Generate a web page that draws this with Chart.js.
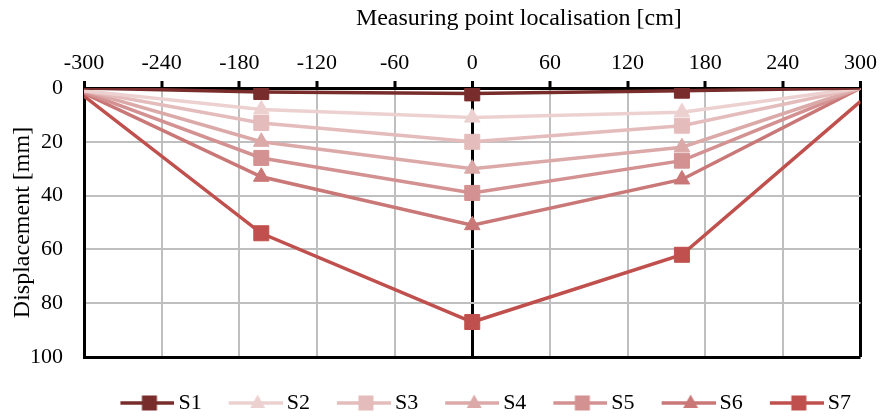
<!DOCTYPE html>
<html>
<head>
<meta charset="utf-8">
<script src="https://cdn.jsdelivr.net/npm/chart.js@4.4.0/dist/chart.umd.min.js"></script>
<style>
  html, body { margin: 0; padding: 0; background: #fff; }
</style>
</head>
<body>
<canvas id="displacementChart" width="882" height="419"></canvas>
<script>
// Data
const positions = [-300, -163, 0, 162, 300];
const seriesNames = ['S1', 'S2', 'S3', 'S4', 'S5', 'S6', 'S7'];
const s1 = [0, 1.5, 2, 1, 0];
const s2 = [1, 8, 11, 9, 0];
const s3 = [1, 13, 20, 14, 0];
const s4 = [1, 20, 30, 22, 0];
const s5 = [1.5, 26, 39, 27, 0];
const s6 = [2, 33, 51, 34, 0];
const s7 = [3, 54, 87, 62, 5];
const xTickValues = [-300, -240, -180, -120, -60, 0, 60, 120, 180, 240, 300];
const yTickValues = [0, 20, 40, 60, 80, 100];
const xTitle = 'Measuring point localisation [cm]';
const yTitle = 'Displacement [mm]';

// Styles
const seriesValues = [s1, s2, s3, s4, s5, s6, s7];
const seriesColors = ['#782d2c', '#edd1d1', '#e5bcbc', '#dca9a9', '#d39191', '#c97777', '#c0504d'];
const seriesMarkers = ['rect', 'triangle', 'rect', 'triangle', 'rect', 'triangle', 'rect'];
const FONT = '"Liberation Serif", "Times New Roman", serif';

function markerRadius(style) {
    return style === 'rect' ? 10.6 : 9;
}

// Petite icône ligne + marqueur pour la légende
function legendIcon(color, style) {
    const c = document.createElement('canvas');
    c.width = 88;
    c.height = 20;
    const g = c.getContext('2d');
    g.strokeStyle = color;
    g.fillStyle = color;
    g.lineWidth = 3.5;
    g.beginPath();
    g.moveTo(34, 10);
    g.lineTo(88, 10);
    g.stroke();
    const cx = 63, cy = 10;
    if (style === 'rect') {
        g.fillRect(cx - 7.5, cy - 7.5, 15, 15);
    } else {
        g.beginPath();
        g.moveTo(cx, cy - 8.5);
        g.lineTo(cx + 7.5, cy + 5);
        g.lineTo(cx - 7.5, cy + 5);
        g.closePath();
        g.fill();
    }
    return c;
}

const datasets = seriesNames.map((name, i) => {
    const r = markerRadius(seriesMarkers[i]);
    return {
        label: name,
        data: positions.map((x, j) => ({ x: x, y: seriesValues[i][j] })),
        showLine: true,
        borderColor: seriesColors[i],
        backgroundColor: seriesColors[i],
        borderWidth: 3.5,
        tension: 0,
        pointStyle: seriesMarkers[i],
        pointRadius: positions.map((p, j) => (j === 0 || j === positions.length - 1) ? 0 : r),
        pointBorderWidth: 1,
        pointHoverRadius: r
    };
});

const topTitle = {
    id: 'topTitle',
    afterDraw(chart) {
        const ctx = chart.ctx;
        ctx.save();
        ctx.font = '24px ' + FONT;
        ctx.fillStyle = '#000';
        ctx.textAlign = 'center';
        ctx.textBaseline = 'middle';
        ctx.fillText(xTitle, chart.scales.x.getPixelForValue(36), 19);
        ctx.restore();
    }
};

const isEdgeX = v => v === 0 || v === -300 || v === 300;
const isEdgeY = v => v === 0 || v === 100;

new Chart(document.getElementById('displacementChart'), {
    type: 'scatter',
    data: { datasets: datasets },
    options: {
        responsive: false,
        animation: false,
        layout: { padding: { right: 20, bottom: -5 } },
        scales: {
            x: {
                type: 'linear',
                position: 'top',
                min: -300,
                max: 300,
                afterBuildTicks: scale => { scale.ticks = xTickValues.map(v => ({ value: v })); },
                afterFit: scale => { scale.height = 88; },
                ticks: {
                    font: { family: FONT, size: 22 },
                    color: '#000',
                    padding: 5,
                    maxRotation: 0,
                    autoSkip: false
                },
                grid: {
                    color: ctx => isEdgeX(ctx.tick.value) ? '#000' : '#bfbfbf',
                    lineWidth: ctx => isEdgeX(ctx.tick.value) ? 3 : 2,
                    tickColor: '#000',
                    tickWidth: 3,
                    tickLength: 7
                },
                border: { display: true, color: '#000', width: 3 }
            },
            y: {
                type: 'linear',
                reverse: true,
                min: 0,
                max: 100,
                afterBuildTicks: scale => { scale.ticks = yTickValues.map(v => ({ value: v })); },
                afterFit: scale => { scale.width = 84; },
                ticks: {
                    font: { family: FONT, size: 22 },
                    color: '#000',
                    padding: 21
                },
                grid: {
                    color: ctx => isEdgeY(ctx.tick.value) ? '#000' : '#bfbfbf',
                    lineWidth: ctx => isEdgeY(ctx.tick.value) ? 3 : 2,
                    drawTicks: false
                },
                border: { display: true, color: '#000', width: 3 },
                title: {
                    display: true,
                    text: yTitle,
                    color: '#000',
                    font: { family: FONT, size: 24 },
                    padding: { top: 8, bottom: 0 }
                }
            }
        },
        plugins: {
            tooltip: { enabled: false },
            legend: {
                position: 'bottom',
                fullSize: false,
                title: { display: true, text: '', padding: { top: 5, bottom: 0 }, font: { size: 25 } },
                labels: {
                    usePointStyle: true,
                    pointStyleWidth: 74,
                    padding: 0,
                    color: '#000',
                    font: { family: FONT, size: 22 },
                    generateLabels: chart => chart.data.datasets.map((ds, i) => ({
                        text: ds.label,
                        pointStyle: legendIcon(seriesColors[i], seriesMarkers[i]),
                        fillStyle: seriesColors[i],
                        strokeStyle: seriesColors[i],
                        lineWidth: 0,
                        fontColor: '#000',
                        hidden: false,
                        datasetIndex: i
                    }))
                }
            }
        }
    },
    plugins: [topTitle]
});
</script>
</body>
</html>
